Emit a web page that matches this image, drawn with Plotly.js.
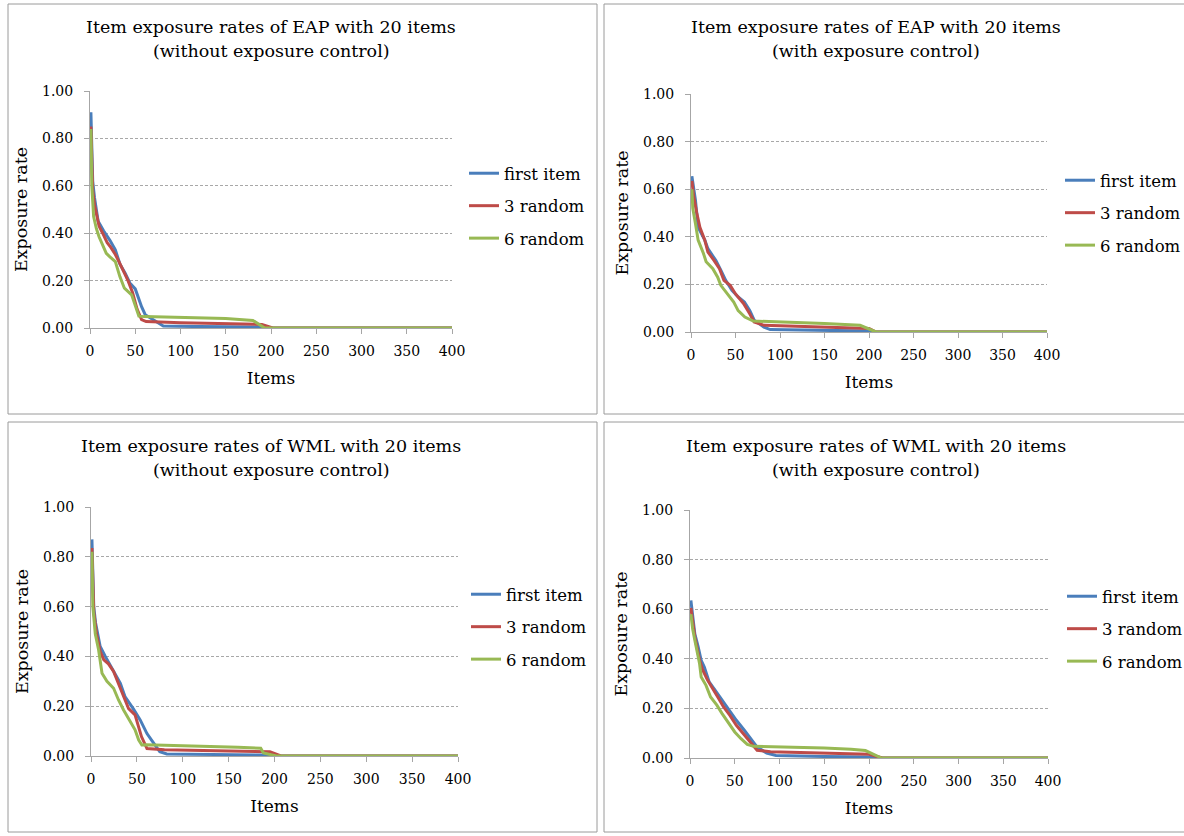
<!DOCTYPE html>
<html>
<head>
<meta charset="utf-8">
<script src="https://cdn.plot.ly/plotly-3.0.1.min.js"></script>
<style>html,body{margin:0;padding:0;background:#fff;overflow:hidden;width:1184px;height:836px;}#chart{width:1184px;height:836px;overflow:hidden;}</style>
</head>
<body>
<div id="chart"></div>
<script>
// ---- Data (item rank vs exposure rate, breakpoints of sorted curves) ----
const seriesNames = ["first item", "3 random", "6 random"];
const titleLine1 = [
  "Item exposure rates of EAP with 20 items",
  "Item exposure rates of EAP with 20 items",
  "Item exposure rates of WML with 20 items",
  "Item exposure rates of WML with 20 items"
];
const titleLine2 = [
  "(without exposure control)",
  "(with exposure control)",
  "(without exposure control)",
  "(with exposure control)"
];
const xTickVals = [0, 50, 100, 150, 200, 250, 300, 350, 400];
const yTickVals = [0, 0.2, 0.4, 0.6, 0.8, 1.0];

// Panel 1: EAP without exposure control
const eapNoFirstX = [1, 3, 5, 9, 15, 22, 28, 33, 39, 44, 50, 53, 57, 61, 70, 81, 120, 188, 200, 400];
const eapNoFirstY = [0.91, 0.62, 0.55, 0.45, 0.41, 0.37, 0.33, 0.27, 0.23, 0.19, 0.165, 0.13, 0.09, 0.056, 0.035, 0.008, 0.006, 0.004, 0, 0];
const eapNo3X = [1, 3, 5, 10, 14, 19, 23, 28, 32, 37, 42, 47, 52, 57, 62, 100, 150, 190, 202, 400];
const eapNo3Y = [0.85, 0.58, 0.52, 0.43, 0.40, 0.36, 0.34, 0.31, 0.28, 0.24, 0.20, 0.15, 0.08, 0.035, 0.027, 0.022, 0.018, 0.015, 0, 0];
const eapNo6X = [1, 2, 4, 7, 10, 14, 18, 22, 28, 33, 38, 46, 50, 54, 60, 100, 150, 180, 193, 400];
const eapNo6Y = [0.84, 0.60, 0.47, 0.42, 0.385, 0.35, 0.315, 0.30, 0.28, 0.217, 0.168, 0.14, 0.098, 0.05, 0.048, 0.044, 0.04, 0.032, 0, 0];

// Panel 2: EAP with exposure control
const eapYesFirstX = [1, 3, 5, 8, 12, 15.5, 19, 23, 28, 33.5, 39, 46, 53, 60, 66, 71, 82, 89, 150, 200, 205, 400];
const eapYesFirstY = [0.655, 0.6, 0.554, 0.44, 0.41, 0.386, 0.35, 0.33, 0.30, 0.26, 0.217, 0.175, 0.147, 0.126, 0.09, 0.05, 0.02, 0.01, 0.006, 0.004, 0, 0];
const eapYes3X = [1, 3, 6.5, 10, 15.5, 19, 26, 32, 37, 44, 50, 59, 66, 71, 82, 150, 200, 208, 400];
const eapYes3Y = [0.635, 0.57, 0.50, 0.44, 0.386, 0.336, 0.30, 0.266, 0.217, 0.196, 0.16, 0.12, 0.077, 0.042, 0.028, 0.02, 0.015, 0, 0];
const eapYes6X = [1, 2, 5, 8, 14, 17, 24.5, 30, 33.5, 41, 48, 53, 60.5, 70, 120, 150, 190, 208, 400];
const eapYes6Y = [0.60, 0.52, 0.456, 0.386, 0.33, 0.295, 0.266, 0.23, 0.196, 0.16, 0.126, 0.09, 0.063, 0.046, 0.04, 0.036, 0.028, 0, 0];

// Panel 3: WML without exposure control
const wmlNoFirstX = [1, 3, 5, 10, 15.6, 21, 26.4, 32, 37, 41, 46, 53.6, 61, 66, 75, 82.6, 150, 190, 200, 400];
const wmlNoFirstY = [0.87, 0.6, 0.534, 0.44, 0.40, 0.366, 0.332, 0.292, 0.239, 0.218, 0.19, 0.145, 0.09, 0.064, 0.017, 0.008, 0.005, 0.004, 0, 0];
const wmlNo3X = [1, 3, 6, 10, 14, 19, 24.6, 30, 37, 41, 48, 55, 61, 80, 150, 195, 207, 400];
const wmlNo3Y = [0.835, 0.58, 0.49, 0.42, 0.386, 0.37, 0.34, 0.292, 0.225, 0.19, 0.165, 0.078, 0.03, 0.025, 0.02, 0.017, 0, 0];
const wmlNo6X = [1, 2, 4.7, 8.3, 12, 17.4, 24.6, 30, 35.5, 42.8, 48, 52, 55.4, 60, 120, 160, 185, 188, 202, 400];
const wmlNo6Y = [0.82, 0.6, 0.49, 0.426, 0.332, 0.30, 0.272, 0.225, 0.185, 0.138, 0.105, 0.064, 0.044, 0.045, 0.04, 0.035, 0.031, 0.012, 0, 0];

// Panel 4: WML with exposure control
const wmlYesFirstX = [1, 3, 5.4, 9, 12.5, 16, 21.4, 26.8, 32, 37.5, 44.6, 51.8, 60.7, 68, 75, 85.7, 96, 150, 200, 208, 400];
const wmlYesFirstY = [0.635, 0.56, 0.50, 0.45, 0.394, 0.367, 0.307, 0.28, 0.253, 0.226, 0.19, 0.152, 0.112, 0.078, 0.044, 0.02, 0.01, 0.006, 0.004, 0, 0];
const wmlYes3X = [1, 3, 5.4, 10.7, 14.3, 19.6, 26.8, 32, 37.5, 44.6, 51.8, 60.7, 68, 75, 90, 150, 200, 215, 400];
const wmlYes3Y = [0.605, 0.54, 0.488, 0.394, 0.354, 0.314, 0.273, 0.24, 0.206, 0.172, 0.132, 0.092, 0.058, 0.031, 0.025, 0.02, 0.015, 0, 0];
const wmlYes6X = [1, 3, 5.4, 10.7, 12.5, 17.9, 23, 30, 35.7, 43, 50, 57, 64, 71, 100, 150, 180, 196, 214, 400];
const wmlYes6Y = [0.58, 0.52, 0.475, 0.38, 0.327, 0.293, 0.246, 0.213, 0.18, 0.139, 0.105, 0.078, 0.055, 0.047, 0.045, 0.04, 0.035, 0.03, 0, 0];

// ---- Build chart ----
const W = 1184, H = 836;
const FONT = "DejaVu Serif";
const colors = ["#4A7EBB", "#BE4B48", "#98B954"];

const panels = [
  {xs: [eapNoFirstX, eapNo3X, eapNo6X], ys: [eapNoFirstY, eapNo3Y, eapNo6Y],
   px: [90, 452], py: [91, 328], box: [8, 4, 597, 414], title: [271, 27, 51], leg: [464, 156]},
  {xs: [eapYesFirstX, eapYes3X, eapYes6X], ys: [eapYesFirstY, eapYes3Y, eapYes6Y],
   px: [691, 1047], py: [94, 332], box: [604, 4, 1190, 414], title: [876, 27, 51], leg: [1060, 163]},
  {xs: [wmlNoFirstX, wmlNo3X, wmlNo6X], ys: [wmlNoFirstY, wmlNo3Y, wmlNo6Y],
   px: [91, 458], py: [507, 756], box: [8, 422, 597, 832], title: [271, 446, 470], leg: [466, 577]},
  {xs: [wmlYesFirstX, wmlYes3X, wmlYes6X], ys: [wmlYesFirstY, wmlYes3Y, wmlYes6Y],
   px: [690, 1048], py: [510, 758], box: [604, 422, 1190, 832], title: [876, 446, 470], leg: [1062, 579]}
];

const data = [];
const layout = {
  width: W, height: H,
  margin: {l: 0, r: 0, t: 0, b: 0, pad: 0, autoexpand: false},
  paper_bgcolor: "#ffffff", plot_bgcolor: "#ffffff",
  font: {family: FONT, size: 16, color: "#000"},
  shapes: [], annotations: []
};

panels.forEach((p, i) => {
  const n = i + 1;
  const xa = n === 1 ? "x" : "x" + n;
  const ya = n === 1 ? "y" : "y" + n;
  const legName = n === 1 ? "legend" : "legend" + n;
  for (let s = 0; s < 3; s++) {
    data.push({
      type: "scatter", mode: "lines",
      x: p.xs[s], y: p.ys[s], name: seriesNames[s],
      xaxis: xa, yaxis: ya, legend: legName, legendgroup: "g" + n + "_" + s,
      line: {color: colors[s], width: 3}
    });
  }
  const xKey = n === 1 ? "xaxis" : "xaxis" + n;
  const yKey = n === 1 ? "yaxis" : "yaxis" + n;
  layout[xKey] = {
    domain: [p.px[0] / W, p.px[1] / W], anchor: ya, automargin: false,
    range: [0, 400], tickvals: xTickVals, ticktext: xTickVals.map(String),
    showgrid: false, zeroline: false, showline: true, linecolor: "#A6A6A6", linewidth: 1,
    ticks: "outside", ticklen: 5, tickcolor: "#A6A6A6", ticklabelstandoff: 5,
    tickfont: {family: FONT, size: 14, color: "#000"},
    title: {text: "Items", font: {family: FONT, size: 17, color: "#000"}, standoff: 14}
  };
  layout[yKey] = {
    domain: [(H - p.py[1]) / H, (H - p.py[0]) / H], anchor: xa, automargin: false,
    range: [0, 1], tickvals: yTickVals, ticktext: yTickVals.map(v => v.toFixed(2)),
    showgrid: true, gridcolor: "#A8A8A8", griddash: "3px,2px", gridwidth: 1,
    zeroline: false, showline: true, linecolor: "#A6A6A6", linewidth: 1,
    ticks: "outside", ticklen: 5, tickcolor: "#A6A6A6", ticklabelstandoff: 8,
    tickfont: {family: FONT, size: 14, color: "#000"},
    title: {text: "Exposure rate", font: {family: FONT, size: 17.5, color: "#000"}, standoff: 9}
  };
  layout[legName] = {
    x: p.leg[0] / W, y: (H - p.leg[1]) / H, xanchor: "left", yanchor: "top",
    bgcolor: "rgba(0,0,0,0)", borderwidth: 0,
    font: {family: FONT, size: 16.5, color: "#000"},
    traceorder: "grouped", tracegroupgap: 8, itemwidth: 30
  };
  layout.shapes.push({
    type: "rect", xref: "paper", yref: "paper", layer: "below",
    x0: p.box[0] / W, x1: p.box[2] / W, y0: (H - p.box[3]) / H, y1: (H - p.box[1]) / H,
    line: {color: "#9A9A9A", width: 1}, fillcolor: "rgba(0,0,0,0)"
  });
  layout.annotations.push({
    xref: "paper", yref: "paper", x: p.title[0] / W, y: (H - p.title[1]) / H,
    xanchor: "center", yanchor: "middle", showarrow: false,
    text: titleLine1[i], font: {family: FONT, size: 17.5, color: "#000"}
  });
  layout.annotations.push({
    xref: "paper", yref: "paper", x: p.title[0] / W, y: (H - p.title[2]) / H,
    xanchor: "center", yanchor: "middle", showarrow: false,
    text: titleLine2[i], font: {family: FONT, size: 17.5, color: "#000"}
  });
});

Plotly.newPlot("chart", data, layout, {displayModeBar: false, staticPlot: true});
</script>
</body>
</html>
